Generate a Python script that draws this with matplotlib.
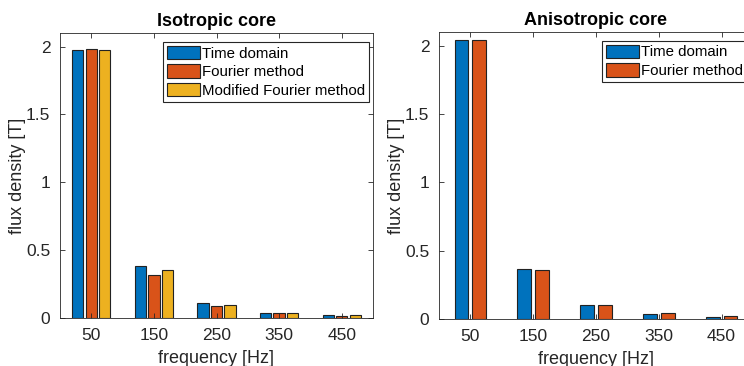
import matplotlib.pyplot as plt
import numpy as np

plt.rcParams['font.family'] = ['Liberation Sans', 'DejaVu Sans']

freqs = ['50', '150', '250', '350', '450']

# isotropic core
iso_time = [1.975, 0.38, 0.11, 0.04, 0.02]
iso_fourier = [1.98, 0.32, 0.09, 0.037, 0.015]
iso_modified = [1.975, 0.355, 0.095, 0.037, 0.02]

# anisotropic core
aniso_time = [2.04, 0.365, 0.10, 0.04, 0.018]
aniso_fourier = [2.045, 0.36, 0.10, 0.042, 0.02]

blue = '#0072BD'
orange = '#D95319'
yellow = '#EDB120'
grey = '#262626'


def style_axes(ax, title):
    ax.set_xlim(0.5, 5.5)
    ax.set_ylim(0, 2.1)
    ax.set_xticks(np.arange(1, 6))
    ax.set_xticklabels(freqs)
    ax.set_yticks([0, 0.5, 1, 1.5, 2])
    ax.set_yticklabels(['0', '0.5', '1', '1.5', '2'])
    ax.tick_params(direction='in', top=True, right=True, length=3.5,
                   labelsize=12.5, colors=grey, pad=7, width=0.6)
    for s in ax.spines.values():
        s.set_color(grey)
        s.set_linewidth(0.6)
    ax.set_title(title, fontsize=13, fontweight='bold', pad=5)
    ax.set_xlabel('frequency [Hz]', fontsize=13, color=grey, labelpad=5)
    ax.set_ylabel('flux density [T]', fontsize=13, color=grey, labelpad=0)


def add_legend(ax, anchor):
    leg = ax.legend(loc='upper left', bbox_to_anchor=anchor, borderaxespad=0,
                    fontsize=10.8, handlelength=2.25, handleheight=1.0,
                    handletextpad=0.1, labelspacing=0.25, borderpad=0.25,
                    fancybox=False, framealpha=1, edgecolor=grey)
    leg.get_frame().set_linewidth(0.8)


fig = plt.figure(figsize=(7.44, 3.66), dpi=100)
x = np.arange(1, 6)

ax1 = fig.add_axes([60 / 744, 48 / 366, 313 / 744, 285 / 366])
w = 0.18
ax1.bar(x - 0.215, iso_time, w, color=blue, edgecolor='#222222', linewidth=0.8, label='Time domain')
ax1.bar(x, iso_fourier, w, color=orange, edgecolor='#222222', linewidth=0.8, label='Fourier method')
ax1.bar(x + 0.215, iso_modified, w, color=yellow, edgecolor='#222222', linewidth=0.8, label='Modified Fourier method')
style_axes(ax1, 'Isotropic core')
add_legend(ax1, (0.329, 0.968))

ax2 = fig.add_axes([439 / 744, 47 / 366, 314 / 744, 287 / 366])
w = 0.22
ax2.bar(x - 0.143, aniso_time, w, color=blue, edgecolor='#222222', linewidth=0.8, label='Time domain')
ax2.bar(x + 0.143, aniso_fourier, w, color=orange, edgecolor='#222222', linewidth=0.8, label='Fourier method')
style_axes(ax2, 'Anisotropic core')
add_legend(ax2, (0.519, 0.969))

fig.savefig('out.png', dpi=100)
